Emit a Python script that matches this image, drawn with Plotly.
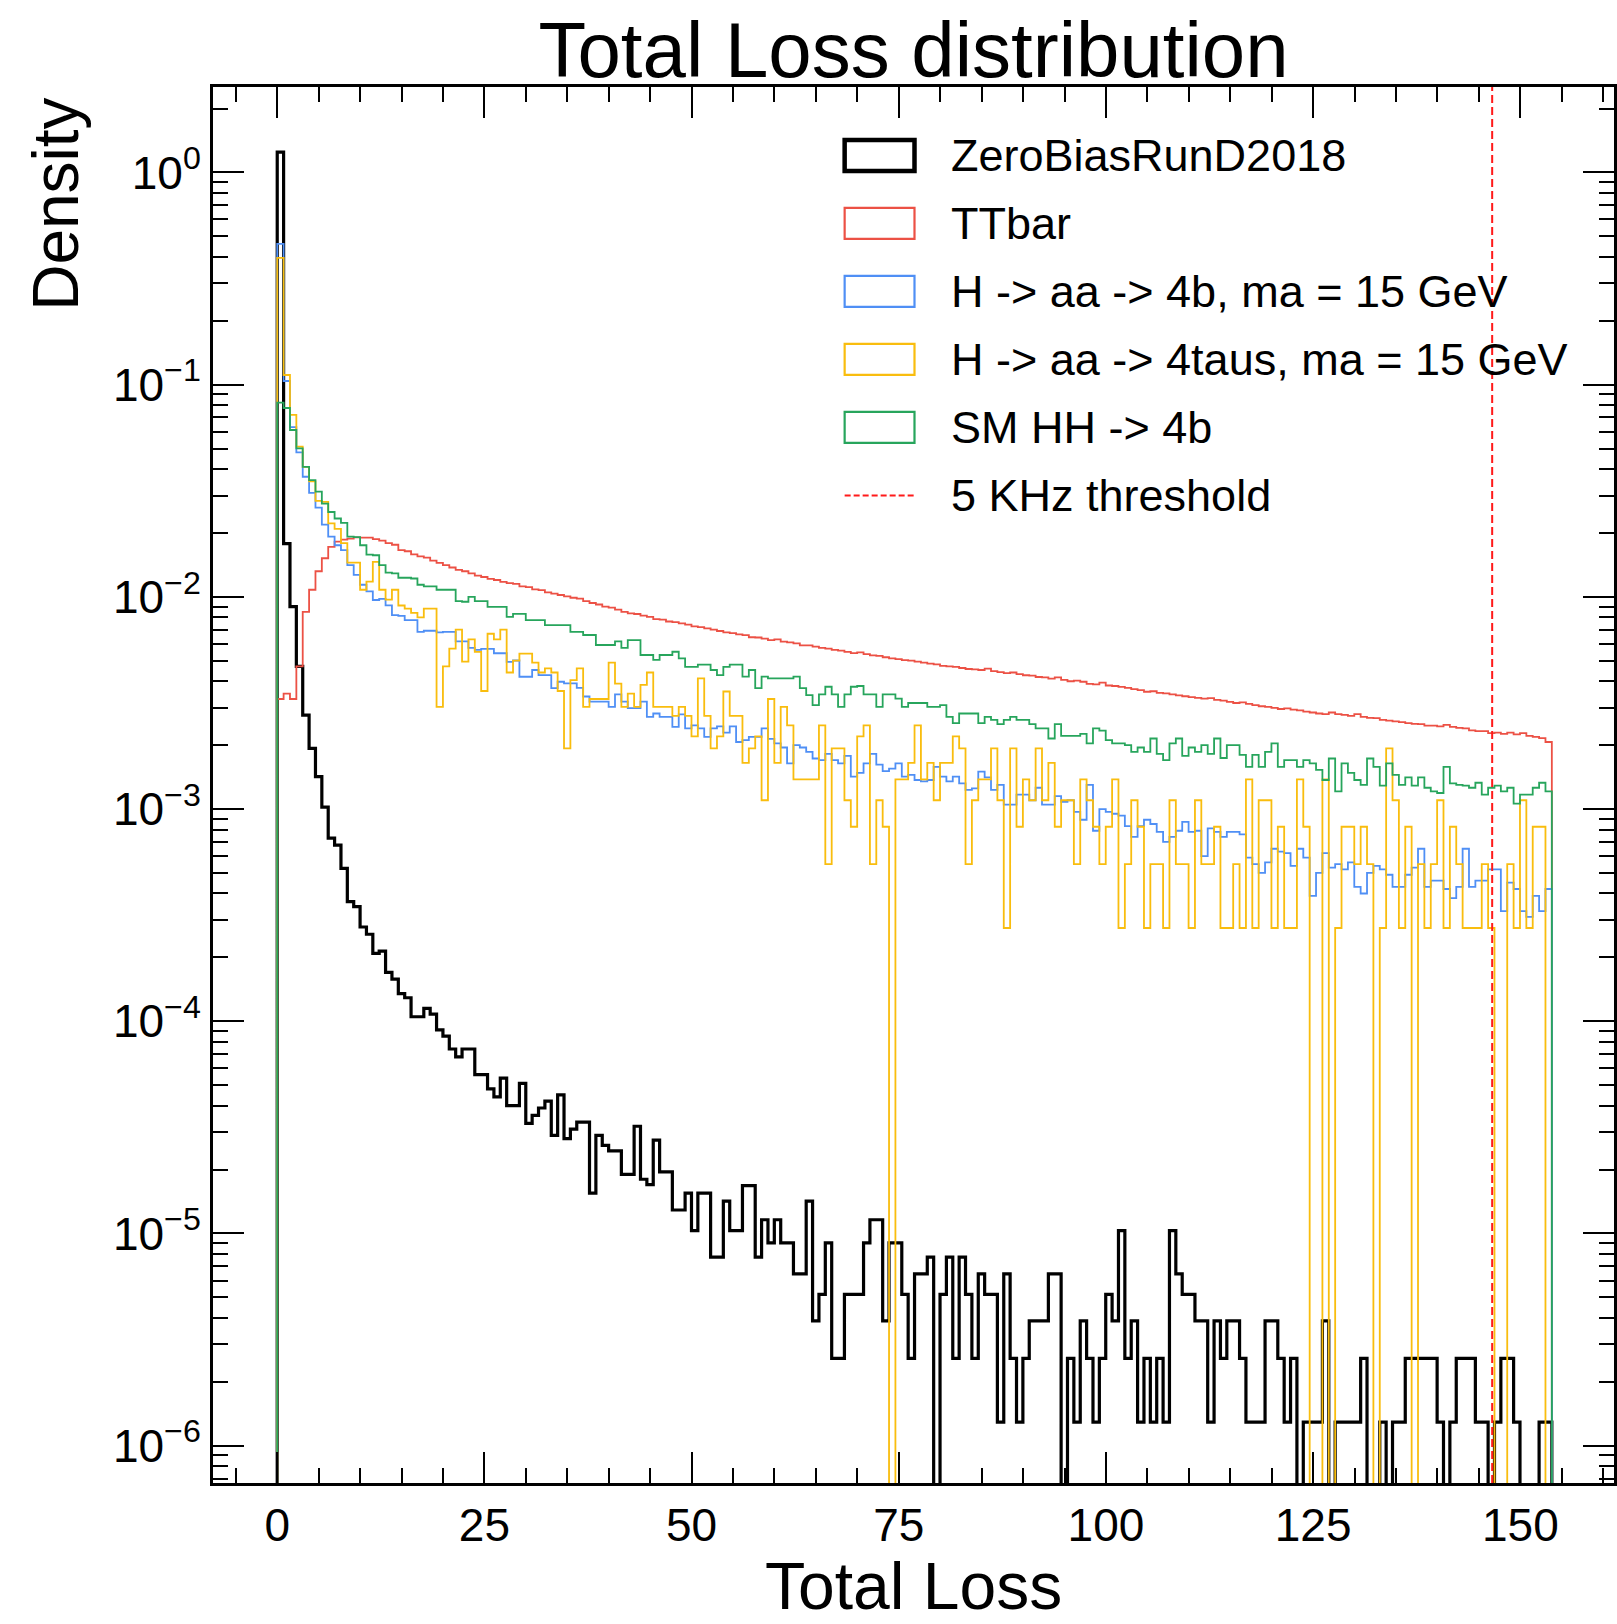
import numpy as np
import plotly.graph_objects as go

# ---------------- data ----------------
X_MIN, X_MAX, N_BINS = 0.0, 153.8, 200
THRESHOLD = 146.6

ZEROBIAS = [
    1.245, 1.78e-2, 9.0e-3, 4.7e-3, 2.77e-3, 1.93e-3, 1.42e-3, 1.02e-3, 7.3e-4, 6.76e-4,
    5.25e-4, 3.66e-4, 3.47e-4, 2.78e-4, 2.57e-4, 2.09e-4, 2.14e-4, 1.70e-4, 1.58e-4, 1.35e-4,
    1.29e-4, 1.05e-4, 1.05e-4, 1.15e-4, 1.08e-4, 9.1e-5, 8.5e-5, 7.4e-5, 6.8e-5, 7.4e-5,
    7.4e-5, 5.6e-5, 5.6e-5, 4.8e-5, 4.4e-5, 5.4e-5, 4.0e-5, 4.0e-5, 5.1e-5, 3.3e-5,
    3.6e-5, 3.9e-5, 4.2e-5, 2.9e-5, 4.5e-5, 2.8e-5, 3.1e-5, 3.35e-5, 3.35e-5, 1.55e-5,
    2.9e-5, 2.6e-5, 2.45e-5, 2.45e-5, 1.9e-5, 1.9e-5, 3.2e-5, 1.8e-5, 1.7e-5, 2.75e-5,
    1.95e-5, 1.95e-5, 1.29e-5, 1.29e-5, 1.55e-5, 1.03e-5, 1.55e-5, 1.55e-5, 7.74e-6, 7.74e-6,
    1.42e-5, 1.03e-5, 1.03e-5, 1.68e-5, 1.68e-5, 7.74e-6, 1.16e-5, 9.03e-6, 1.16e-5, 9.03e-6,
    9.03e-6, 6.45e-6, 6.45e-6, 1.42e-5, 3.87e-6, 5.16e-6, 9.03e-6, 2.58e-6, 2.58e-6, 5.16e-6,
    5.16e-6, 5.16e-6, 9.03e-6, 1.16e-5, 1.16e-5, 3.87e-6, 9.03e-6, 9.03e-6, 5.16e-6, 2.58e-6,
    6.45e-6, 6.45e-6, 7.74e-6, 0, 5.16e-6, 7.74e-6, 2.58e-6, 7.74e-6, 5.16e-6, 2.58e-6,
    6.45e-6, 5.16e-6, 5.16e-6, 1.29e-6, 6.45e-6, 2.58e-6, 1.29e-6, 2.58e-6, 3.87e-6, 3.87e-6,
    3.87e-6, 6.45e-6, 6.45e-6, 0, 2.58e-6, 1.29e-6, 3.87e-6, 2.58e-6, 1.29e-6, 2.58e-6,
    5.16e-6, 3.87e-6, 1.03e-5, 2.58e-6, 3.87e-6, 1.29e-6, 2.58e-6, 1.29e-6, 2.58e-6, 1.29e-6,
    1.03e-5, 6.45e-6, 5.16e-6, 5.16e-6, 3.87e-6, 3.87e-6, 1.29e-6, 3.87e-6, 2.58e-6, 3.87e-6,
    3.87e-6, 2.58e-6, 1.29e-6, 1.29e-6, 1.29e-6, 3.87e-6, 3.87e-6, 2.58e-6, 1.29e-6, 2.58e-6,
    0, 1.29e-6, 1.29e-6, 1.29e-6, 3.87e-6, 0, 1.29e-6, 1.29e-6, 1.29e-6, 1.29e-6,
    2.58e-6, 0, 0, 1.29e-6, 0, 1.29e-6, 1.29e-6, 2.58e-6, 2.58e-6, 2.58e-6,
    2.58e-6, 2.58e-6, 1.29e-6, 0, 1.29e-6, 2.58e-6, 2.58e-6, 2.58e-6, 1.29e-6, 1.29e-6,
    0, 1.29e-6, 2.58e-6, 2.58e-6, 1.29e-6, 0, 0, 0, 1.29e-6, 1.29e-6,
]

TTBAR = [
    3.3e-3, 3.5e-3, 3.3e-3, 4.7e-3, 8.5e-3, 1.08e-2, 1.32e-2, 1.52e-2, 1.72e-2, 1.82e-2,
    1.86e-2, 1.88e-2, 1.905e-2, 1.90e-2, 1.90e-2, 1.87e-2, 1.84e-2, 1.79e-2, 1.76e-2, 1.66e-2,
    1.64e-2, 1.585e-2, 1.55e-2, 1.53e-2, 1.48e-2, 1.445e-2, 1.41e-2, 1.375e-2, 1.34e-2, 1.32e-2,
    1.29e-2, 1.26e-2, 1.24e-2, 1.215e-2, 1.20e-2, 1.175e-2, 1.16e-2, 1.15e-2, 1.12e-2, 1.11e-2,
    1.085e-2, 1.075e-2, 1.05e-2, 1.035e-2, 1.02e-2, 1.005e-2, 9.9e-3, 9.8e-3, 9.55e-3, 9.35e-3,
    9.2e-3, 9.0e-3, 8.9e-3, 8.7e-3, 8.5e-3, 8.35e-3, 8.3e-3, 8.15e-3, 8.05e-3, 7.85e-3,
    7.8e-3, 7.65e-3, 7.6e-3, 7.5e-3, 7.4e-3, 7.25e-3, 7.2e-3, 7.1e-3, 7.0e-3, 6.9e-3,
    6.8e-3, 6.75e-3, 6.65e-3, 6.6e-3, 6.45e-3, 6.43e-3, 6.35e-3, 6.25e-3, 6.3e-3, 6.15e-3,
    6.1e-3, 6.03e-3, 5.9e-3, 5.9e-3, 5.82e-3, 5.75e-3, 5.7e-3, 5.62e-3, 5.58e-3, 5.5e-3,
    5.43e-3, 5.47e-3, 5.37e-3, 5.3e-3, 5.27e-3, 5.19e-3, 5.13e-3, 5.09e-3, 5.03e-3, 5.0e-3,
    4.95e-3, 4.9e-3, 4.84e-3, 4.81e-3, 4.73e-3, 4.7e-3, 4.68e-3, 4.62e-3, 4.57e-3, 4.55e-3,
    4.52e-3, 4.59e-3, 4.47e-3, 4.42e-3, 4.37e-3, 4.4e-3, 4.32e-3, 4.27e-3, 4.25e-3, 4.19e-3,
    4.17e-3, 4.12e-3, 4.17e-3, 4.06e-3, 4.0e-3, 4.03e-3, 3.98e-3, 3.89e-3, 3.87e-3, 3.94e-3,
    3.82e-3, 3.8e-3, 3.76e-3, 3.72e-3, 3.67e-3, 3.63e-3, 3.57e-3, 3.59e-3, 3.53e-3, 3.51e-3,
    3.47e-3, 3.43e-3, 3.4e-3, 3.37e-3, 3.34e-3, 3.31e-3, 3.33e-3, 3.27e-3, 3.24e-3, 3.2e-3,
    3.16e-3, 3.18e-3, 3.13e-3, 3.09e-3, 3.05e-3, 3.03e-3, 3.0e-3, 2.96e-3, 2.98e-3, 2.94e-3,
    2.92e-3, 2.88e-3, 2.85e-3, 2.82e-3, 2.8e-3, 2.85e-3, 2.8e-3, 2.78e-3, 2.75e-3, 2.8e-3,
    2.72e-3, 2.69e-3, 2.68e-3, 2.63e-3, 2.61e-3, 2.59e-3, 2.57e-3, 2.54e-3, 2.52e-3, 2.51e-3,
    2.47e-3, 2.47e-3, 2.45e-3, 2.49e-3, 2.44e-3, 2.41e-3, 2.4e-3, 2.35e-3, 2.33e-3, 2.33e-3,
    2.28e-3, 2.29e-3, 2.26e-3, 2.29e-3, 2.25e-3, 2.28e-3, 2.21e-3, 2.19e-3, 2.16e-3, 2.07e-3,
]

H_AA_4B = [
    0.461, 0.104, 0.063, 0.0479, 0.0368, 0.0309, 0.0263, 0.0219, 0.0192, 0.0175,
    0.0166, 0.0141, 0.0127, 0.0114, 0.0106, 0.00966, 0.00977, 0.00912, 0.0082, 0.00813,
    0.00776, 0.00776, 0.00684, 0.00692, 0.00692, 0.0068, 0.00684, 0.00684, 0.00617, 0.00617,
    0.00575, 0.00562, 0.00569, 0.00569, 0.00542, 0.00542, 0.00494, 0.00501, 0.0042, 0.0042,
    0.00452, 0.00428, 0.00428, 0.00371, 0.00398, 0.00391, 0.00391, 0.00372, 0.00339, 0.00321,
    0.00321, 0.00321, 0.00303, 0.00347, 0.00321, 0.00299, 0.00299, 0.00321, 0.00272, 0.00282,
    0.00272, 0.00272, 0.00244, 0.00279, 0.0024, 0.00248, 0.0024, 0.00219, 0.0024, 0.00245,
    0.00229, 0.00245, 0.00207, 0.00211, 0.00219, 0.00219, 0.0024, 0.00214, 0.00204, 0.00195,
    0.00164, 0.002, 0.00195, 0.00186, 0.00173, 0.0017, 0.00182, 0.0017, 0.00164, 0.00178,
    0.00142, 0.00148, 0.00164, 0.00182, 0.00162, 0.00151, 0.00155, 0.00164, 0.00142, 0.00145,
    0.00137, 0.00135, 0.00137, 0.00158, 0.00142, 0.00135, 0.00142, 0.00132, 0.00123, 0.00125,
    0.0015, 0.00141, 0.00123, 0.0013, 0.00105, 0.00105, 0.00117, 0.00117, 0.0011, 0.00126,
    0.00105, 0.00105, 0.00115, 0.00108, 0.0011, 0.00097, 0.00089, 0.0013, 0.00079, 0.001,
    0.00097, 0.00095, 0.00093, 0.00083, 0.00074, 0.00083, 0.00089, 0.00085, 0.00078, 0.0007,
    0.00074, 0.00079, 0.00087, 0.00078, 0.00079, 0.0006, 0.00081, 0.00078, 0.00074, 0.00078,
    0.00078, 0.00076, 0.00059, 0.00055, 0.0005, 0.00056, 0.00065, 0.00063, 0.00062, 0.00054,
    0.00065, 0.00059, 0.00039, 0.0005, 0.00062, 0.00053, 0.00055, 0.00052, 0.00056, 0.00043,
    0.0004, 0.0005, 0.00054, 0.00052, 0.00049, 0.00043, 0.00043, 0.00049, 0.00053, 0.00065,
    0.00043, 0.00046, 0.00046, 0.00042, 0.00038, 0.00043, 0.00065, 0.00043, 0.00046, 0.00046,
    0.00052, 0.00052, 0.00033, 0.00045, 0.00042, 0.00033, 0.00031, 0.00039, 0.00033, 0.00042,
]

H_AA_4TAU = [
    0.396, 0.111, 0.072, 0.051, 0.041, 0.035, 0.0283, 0.028, 0.0222, 0.0209,
    0.0179, 0.0145, 0.0145, 0.0108, 0.0118, 0.0146, 0.0108, 0.0097, 0.0108, 0.0091,
    0.0088, 0.0084, 0.0080, 0.0088, 0.0088, 0.00303, 0.0047, 0.0057, 0.0070, 0.00495,
    0.0063, 0.0055, 0.0036, 0.0067, 0.0063, 0.0070, 0.0044, 0.0050, 0.0054, 0.0054,
    0.0049, 0.0044, 0.0046, 0.0044, 0.0036, 0.00193, 0.00405, 0.0046, 0.00303, 0.0033,
    0.0033, 0.0033, 0.0049, 0.0039, 0.00303, 0.0035, 0.00303, 0.00385, 0.0044, 0.00303,
    0.00303, 0.00303, 0.00275, 0.00303, 0.00275, 0.0022, 0.00413, 0.00275, 0.00193, 0.0022,
    0.00358, 0.00275, 0.00275, 0.00165, 0.00193, 0.0022, 0.0011, 0.0033, 0.00165, 0.00303,
    0.00248, 0.00138, 0.00138, 0.00138, 0.00138, 0.00248, 0.00055, 0.00193, 0.00193, 0.0011,
    0.000825, 0.0022, 0.00248, 0.00055, 0.0011, 0.000825, 0, 0.00138, 0.00138, 0.00165,
    0.00248, 0.00138, 0.00165, 0.0011, 0.00165, 0.00165, 0.0022, 0.00193, 0.00055, 0.0011,
    0.00138, 0.00138, 0.00193, 0.0011, 0.000275, 0.00193, 0.000825, 0.00138, 0.0011, 0.00193,
    0.0011, 0.00165, 0.000825, 0.0011, 0.0011, 0.00055, 0.00138, 0.0011, 0.000825, 0.00055,
    0.000825, 0.00138, 0.000275, 0.00055, 0.0011, 0.000825, 0.000275, 0.00055, 0.00055, 0.000275,
    0.0011, 0.00055, 0.00055, 0.000275, 0.0011, 0.00055, 0.00055, 0.000825, 0.000275, 0.000275,
    0.00055, 0.000275, 0.00138, 0.000275, 0.0011, 0.0011, 0.000275, 0.000825, 0.000275, 0.000275,
    0.00138, 0.000825, 0, 0, 0.00138, 0, 0.000275, 0.000825, 0.000825, 0.00055,
    0.000825, 0.00055, 0, 0.000275, 0.00193, 0.0011, 0.000275, 0.000825, 0, 0.00055,
    0.000275, 0.00055, 0.0011, 0.000275, 0.000825, 0.00055, 0.000275, 0.000275, 0.000275, 0.00055,
    0.000275, 0, 0, 0.00055, 0.000275, 0.0011, 0.000275, 0.000825, 0.000825, 0,
]

SM_HH_4B = [
    0.0822, 0.0776, 0.0611, 0.0501, 0.041, 0.0355, 0.0313, 0.0275, 0.0251, 0.0234,
    0.0223, 0.0192, 0.0191, 0.0175, 0.0158, 0.0157, 0.0141, 0.0130, 0.0129, 0.0123,
    0.0123, 0.0122, 0.0114, 0.0112, 0.0112, 0.0108, 0.0108, 0.0108, 0.00955, 0.00948,
    0.0100, 0.00955, 0.00955, 0.00897, 0.00897, 0.00897, 0.00805, 0.00832, 0.00832, 0.00776,
    0.00776, 0.00776, 0.00736, 0.00736, 0.00736, 0.00736, 0.00684, 0.00684, 0.00661, 0.00661,
    0.00593, 0.00593, 0.00593, 0.00617, 0.00575, 0.00625, 0.00625, 0.00532, 0.00532, 0.00504,
    0.00532, 0.00532, 0.00551, 0.00513, 0.00468, 0.00468, 0.00479, 0.00479, 0.00452, 0.00428,
    0.00468, 0.00479, 0.00479, 0.00421, 0.00452, 0.00371, 0.00421, 0.00413, 0.00413, 0.00413,
    0.00413, 0.00421, 0.00371, 0.00344, 0.00309, 0.00347, 0.00377, 0.00347, 0.00303, 0.00347,
    0.00377, 0.0038, 0.00347, 0.00347, 0.00303, 0.00347, 0.00347, 0.00331, 0.00303, 0.00316,
    0.00316, 0.00316, 0.00303, 0.00303, 0.00309, 0.00272, 0.00254, 0.00282, 0.00282, 0.00282,
    0.00254, 0.00272, 0.00263, 0.00251, 0.00263, 0.00272, 0.00263, 0.00263, 0.00251, 0.0024,
    0.0024, 0.00215, 0.00251, 0.00221, 0.00221, 0.00221, 0.00226, 0.00204, 0.0024, 0.00234,
    0.00211, 0.00204, 0.00204, 0.002, 0.00186, 0.00195, 0.00186, 0.00215, 0.00182, 0.0017,
    0.00204, 0.00215, 0.00178, 0.00195, 0.00186, 0.002, 0.00182, 0.00215, 0.00174, 0.002,
    0.002, 0.0018, 0.00158, 0.0018, 0.00158, 0.00186, 0.00204, 0.00158, 0.0017, 0.0017,
    0.00158, 0.0017, 0.00164, 0.00153, 0.00137, 0.00173, 0.00121, 0.00164, 0.00148, 0.00137,
    0.0013, 0.00173, 0.00158, 0.00129, 0.00164, 0.00145, 0.0013, 0.00141, 0.00129, 0.00141,
    0.00126, 0.00121, 0.00119, 0.00158, 0.00132, 0.0013, 0.00129, 0.00126, 0.00133, 0.00117,
    0.00126, 0.00129, 0.00121, 0.00126, 0.00106, 0.00117, 0.00117, 0.00126, 0.00133, 0.00121,
]

SERIES_NAMES = [
    "ZeroBiasRunD2018",
    "TTbar",
    "H -> aa -> 4b, ma = 15 GeV",
    "H -> aa -> 4taus, ma = 15 GeV",
    "SM HH -> 4b",
]
THRESHOLD_NAME = "5 KHz threshold"

X_TICKS = [0, 25, 50, 75, 100, 125, 150]
Y_TICK_VALUES = [1e-6, 1e-5, 1e-4, 1e-3, 1e-2, 1e-1, 1.0]
Y_TICK_LABELS = ["10<sup>\u22126</sup>", "10<sup>\u22125</sup>", "10<sup>\u22124</sup>",
                 "10<sup>\u22123</sup>", "10<sup>\u22122</sup>", "10<sup>\u22121</sup>",
                 "10<sup>0</sup>"]

# ---------------- style ----------------
COLORS = ["#000000", "#EC5145", "#4F8FF5", "#F9BD0E", "#27A55C"]
WIDTHS = [3.2, 1.8, 1.8, 1.8, 1.8]
THR_COLOR = "#FF1A1A"
FONT = "Liberation Sans, Arial, Helvetica, sans-serif"

W, H = 1617, 1624
ML, MR, MT, MB = 213, 0, 87, 141
PW, PH = W - ML - MR, H - MT - MB

edges = np.linspace(X_MIN, X_MAX, N_BINS + 1)
FLOOR = 1e-9


def step_xy(vals):
    v = np.asarray(vals, dtype=float)
    v = np.where(v > 0, v, FLOOR)
    x = np.concatenate([[edges[0]], edges, [edges[-1]]])
    y = np.concatenate([[FLOOR], v, [v[-1], FLOOR]])
    return x, y


def px_x(px):
    return (px - ML) / PW


def px_y(py):
    return (MT + PH - py) / PH


fig = go.Figure()
all_series = [ZEROBIAS, TTBAR, H_AA_4B, H_AA_4TAU, SM_HH_4B]
for name, vals, col, w in zip(SERIES_NAMES, all_series, COLORS, WIDTHS):
    x, y = step_xy(vals)
    fig.add_trace(go.Scatter(x=x, y=y, mode="lines", name=name, showlegend=False,
                             line=dict(color=col, width=w, shape="hv"),
                             hoverinfo="skip"))

# threshold line
fig.add_shape(type="line", xref="x", yref="paper", x0=THRESHOLD, x1=THRESHOLD,
              y0=0, y1=1, line=dict(color=THR_COLOR, width=2, dash="8px,4px"))

# manual legend
row_y0, row_dy = 155.4, 68.0
box_x0, box_x1, text_x = 846, 916, 951
box_h = 31
for i, (name, col) in enumerate(zip(SERIES_NAMES, COLORS)):
    cy = row_y0 + i * row_dy
    fig.add_shape(type="rect", xref="paper", yref="paper",
                  x0=px_x(box_x0), x1=px_x(box_x1),
                  y0=px_y(cy + box_h / 2), y1=px_y(cy - box_h / 2),
                  line=dict(color=col, width=4.5 if i == 0 else 2.2),
                  fillcolor="rgba(0,0,0,0)")
    fig.add_annotation(xref="paper", yref="paper", x=px_x(text_x), y=px_y(cy),
                       xanchor="left", yanchor="middle", text=name, showarrow=False,
                       font=dict(size=45, color="black", family=FONT))
cy = row_y0 + 5 * row_dy
fig.add_shape(type="line", xref="paper", yref="paper", x0=px_x(box_x0), x1=px_x(box_x1),
              y0=px_y(cy), y1=px_y(cy), line=dict(color=THR_COLOR, width=2, dash="6px,3px"))
fig.add_annotation(xref="paper", yref="paper", x=px_x(text_x), y=px_y(cy),
                   xanchor="left", yanchor="middle", text=THRESHOLD_NAME, showarrow=False,
                   font=dict(size=45, color="black", family=FONT))

# axis titles
fig.add_annotation(xref="paper", yref="paper", x=0.5, y=px_y(1586), xanchor="center",
                   yanchor="middle", text="Total Loss", showarrow=False,
                   font=dict(size=66, color="black", family=FONT))
fig.add_annotation(xref="paper", yref="paper", x=px_x(55), y=px_y(204.5), xanchor="center",
                   yanchor="middle", text="Density", textangle=-90, showarrow=False,
                   font=dict(size=64, color="black", family=FONT))

minor_y = [d * 10.0 ** e for e in range(-7, 1) for d in range(2, 10)]

fig.update_layout(
    width=W, height=H,
    margin=dict(l=ML, r=MR, t=MT, b=MB, pad=0),
    paper_bgcolor="white", plot_bgcolor="white",
    font=dict(family=FONT, color="black"),
    title=dict(text="Total Loss distribution", x=0.5, xref="paper", xanchor="center",
               y=1 - 49.5 / H, yref="container", yanchor="middle",
               font=dict(size=78, color="black", family=FONT)),
    showlegend=False,
    xaxis=dict(range=[-7.75, 161.3], tickmode="array", tickvals=X_TICKS,
               ticks="inside", ticklen=31, tickwidth=2, tickcolor="black",
               showline=True, linewidth=3, linecolor="black", mirror="allticks",
               showgrid=False, zeroline=False, tickfont=dict(size=46, color="black"),
               minor=dict(tickmode="linear", tick0=0, dtick=5, ticks="inside",
                          ticklen=15, tickwidth=1.5, tickcolor="black", showgrid=False)),
    yaxis=dict(type="log", range=[-6.176, 0.4025], tickmode="array",
               tickvals=Y_TICK_VALUES, ticktext=Y_TICK_LABELS,
               ticks="inside", ticklen=31, tickwidth=2, tickcolor="black",
               showline=True, linewidth=3, linecolor="black", mirror="allticks",
               showgrid=False, zeroline=False, tickfont=dict(size=46, color="black"),
               minor=dict(tickmode="array", tickvals=minor_y, ticks="inside",
                          ticklen=15, tickwidth=1.5, tickcolor="black", showgrid=False)),
)

fig.write_html("out.html", config={"displayModeBar": False},
               post_script="document.body.style.margin='0';document.body.style.overflow='hidden';")
